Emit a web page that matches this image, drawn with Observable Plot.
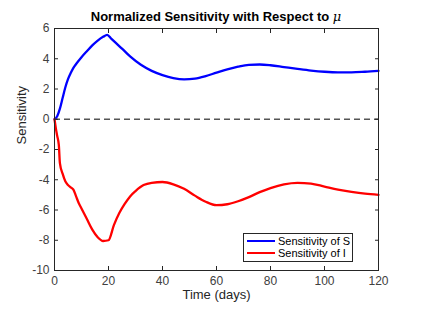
<!DOCTYPE html>
<html>
<head>
<meta charset="utf-8">
<script src="https://cdn.jsdelivr.net/npm/d3@7"></script>
<script src="https://cdn.jsdelivr.net/npm/@observablehq/plot@0.6"></script>
<style>
  body { margin: 0; background: #fff; }
  #wrap { position: relative; width: 429px; height: 319px; font-family: "Liberation Sans", Arial, sans-serif; }
  #title { position: absolute; left: 54px; width: 324px; top: 9px; text-align: center; font-weight: bold; font-size: 13px; color: #000; white-space: nowrap; }
  #title i { font-family: "DejaVu Serif", serif; font-weight: normal; }
  #legend { position: absolute; left: 243px; top: 233px; width: 108px; height: 27px; border: 1px solid #262626; background: #fff; font-size: 11px; color: #000; }
  .row { position: absolute; left: 3px; display: flex; align-items: center; white-space: nowrap; line-height: 12px; }
  .sw { flex: none; width: 28px; height: 0; border-top: 2.5px solid; margin-right: 3px; }
</style>
</head>
<body>
<div id="wrap">
  <div id="chart"></div>
  <div id="title">Normalized Sensitivity with Respect to <i>μ</i></div>
  <div id="legend"></div>
</div>
<script>
const days = [0,1,2,3,4,5,6,7,8,10,12,14,16,18,19.5,21,23,25,28,32,36,40,44,48,52,56,60,64,68,72,76,80,85,90,95,100,105,110,115,120];
const sensS = [0,0.2,0.7,1.4,2.1,2.65,3.05,3.4,3.65,4.1,4.5,4.88,5.2,5.45,5.58,5.33,5.0,4.67,4.15,3.6,3.2,2.92,2.72,2.63,2.68,2.85,3.08,3.3,3.48,3.6,3.62,3.57,3.45,3.33,3.22,3.14,3.1,3.1,3.14,3.2];
const daysI = [0,0.5,1,1.6,2,3,4,5,6,7,8,9,10,12,14,16,18,20,22,24,26,28,30,33,36,40,44,48,52,56,60,64,68,72,76,80,85,90,95,100,105,110,115,120];
const sensI = [0,-0.6,-1.1,-1.7,-2.9,-3.6,-4.1,-4.35,-4.5,-4.65,-5.1,-5.55,-5.9,-6.6,-7.3,-7.8,-8.05,-8.0,-7.0,-6.2,-5.6,-5.1,-4.75,-4.35,-4.2,-4.15,-4.3,-4.6,-5.05,-5.45,-5.68,-5.62,-5.42,-5.15,-4.82,-4.55,-4.3,-4.2,-4.25,-4.45,-4.65,-4.8,-4.92,-5.0];
const xTicks = [0,20,40,60,80,100,120];
const yTicks = [-10,-8,-6,-4,-2,0,2,4,6];
const seriesNames = ["Sensitivity of S","Sensitivity of I"];
const seriesColors = ["#0000ff","#ff0000"];

const dataS = days.map((t,i) => ({t, v: sensS[i]}));
const dataI = daysI.map((t,i) => ({t, v: sensI[i]}));
const axisColor = "#262626";
const fmt = d => String(d);

const chart = Plot.plot({
  width: 429, height: 319,
  marginLeft: 54, marginRight: 51, marginTop: 28, marginBottom: 49,
  style: {fontFamily: '"Liberation Sans", Arial, sans-serif', fontSize: "12px", color: axisColor, background: "#fff"},
  x: {domain: [0,120]},
  y: {domain: [-10,6]},
  marks: [
    Plot.ruleY([0], {stroke: "#555", strokeWidth: 1.5, strokeDasharray: "6,4"}),
    Plot.line(dataS, {x: "t", y: "v", stroke: seriesColors[0], strokeWidth: 2.3, curve: "monotone-x"}),
    Plot.line(dataI, {x: "t", y: "v", stroke: seriesColors[1], strokeWidth: 2.3, curve: "monotone-x"}),
    Plot.frame({stroke: axisColor, strokeWidth: 1}),
    Plot.axisX(xTicks, {anchor: "bottom", tickSize: -4, tickPadding: 10, tickFormat: fmt, label: null, stroke: axisColor, fill: "#404040"}),
    Plot.axisX(xTicks, {anchor: "top", tickSize: -4, tickFormat: () => "", label: null, stroke: axisColor}),
    Plot.axisY(yTicks, {anchor: "left", tickSize: -4, tickPadding: 9, tickFormat: fmt, label: null, stroke: axisColor, fill: "#404040"}),
    Plot.axisY(yTicks, {anchor: "right", tickSize: -4, tickFormat: () => "", label: null, stroke: axisColor}),
    Plot.text(["Time (days)"], {frameAnchor: "bottom", dy: 28, fontSize: 13, fill: axisColor}),
    Plot.text(["Sensitivity"], {frameAnchor: "left", dx: -33, dy: -5, rotate: -90, fontSize: 13, fill: axisColor})
  ]
});
document.getElementById("chart").appendChild(chart);

const legend = document.getElementById("legend");
seriesNames.forEach((name, i) => {
  const row = document.createElement("div");
  row.className = "row";
  row.style.top = (i === 0 ? 1 : 13) + "px";
  row.innerHTML = `<span class="sw" style="border-color:${seriesColors[i]}"></span><span>${name}</span>`;
  legend.appendChild(row);
});
</script>
</body>
</html>
